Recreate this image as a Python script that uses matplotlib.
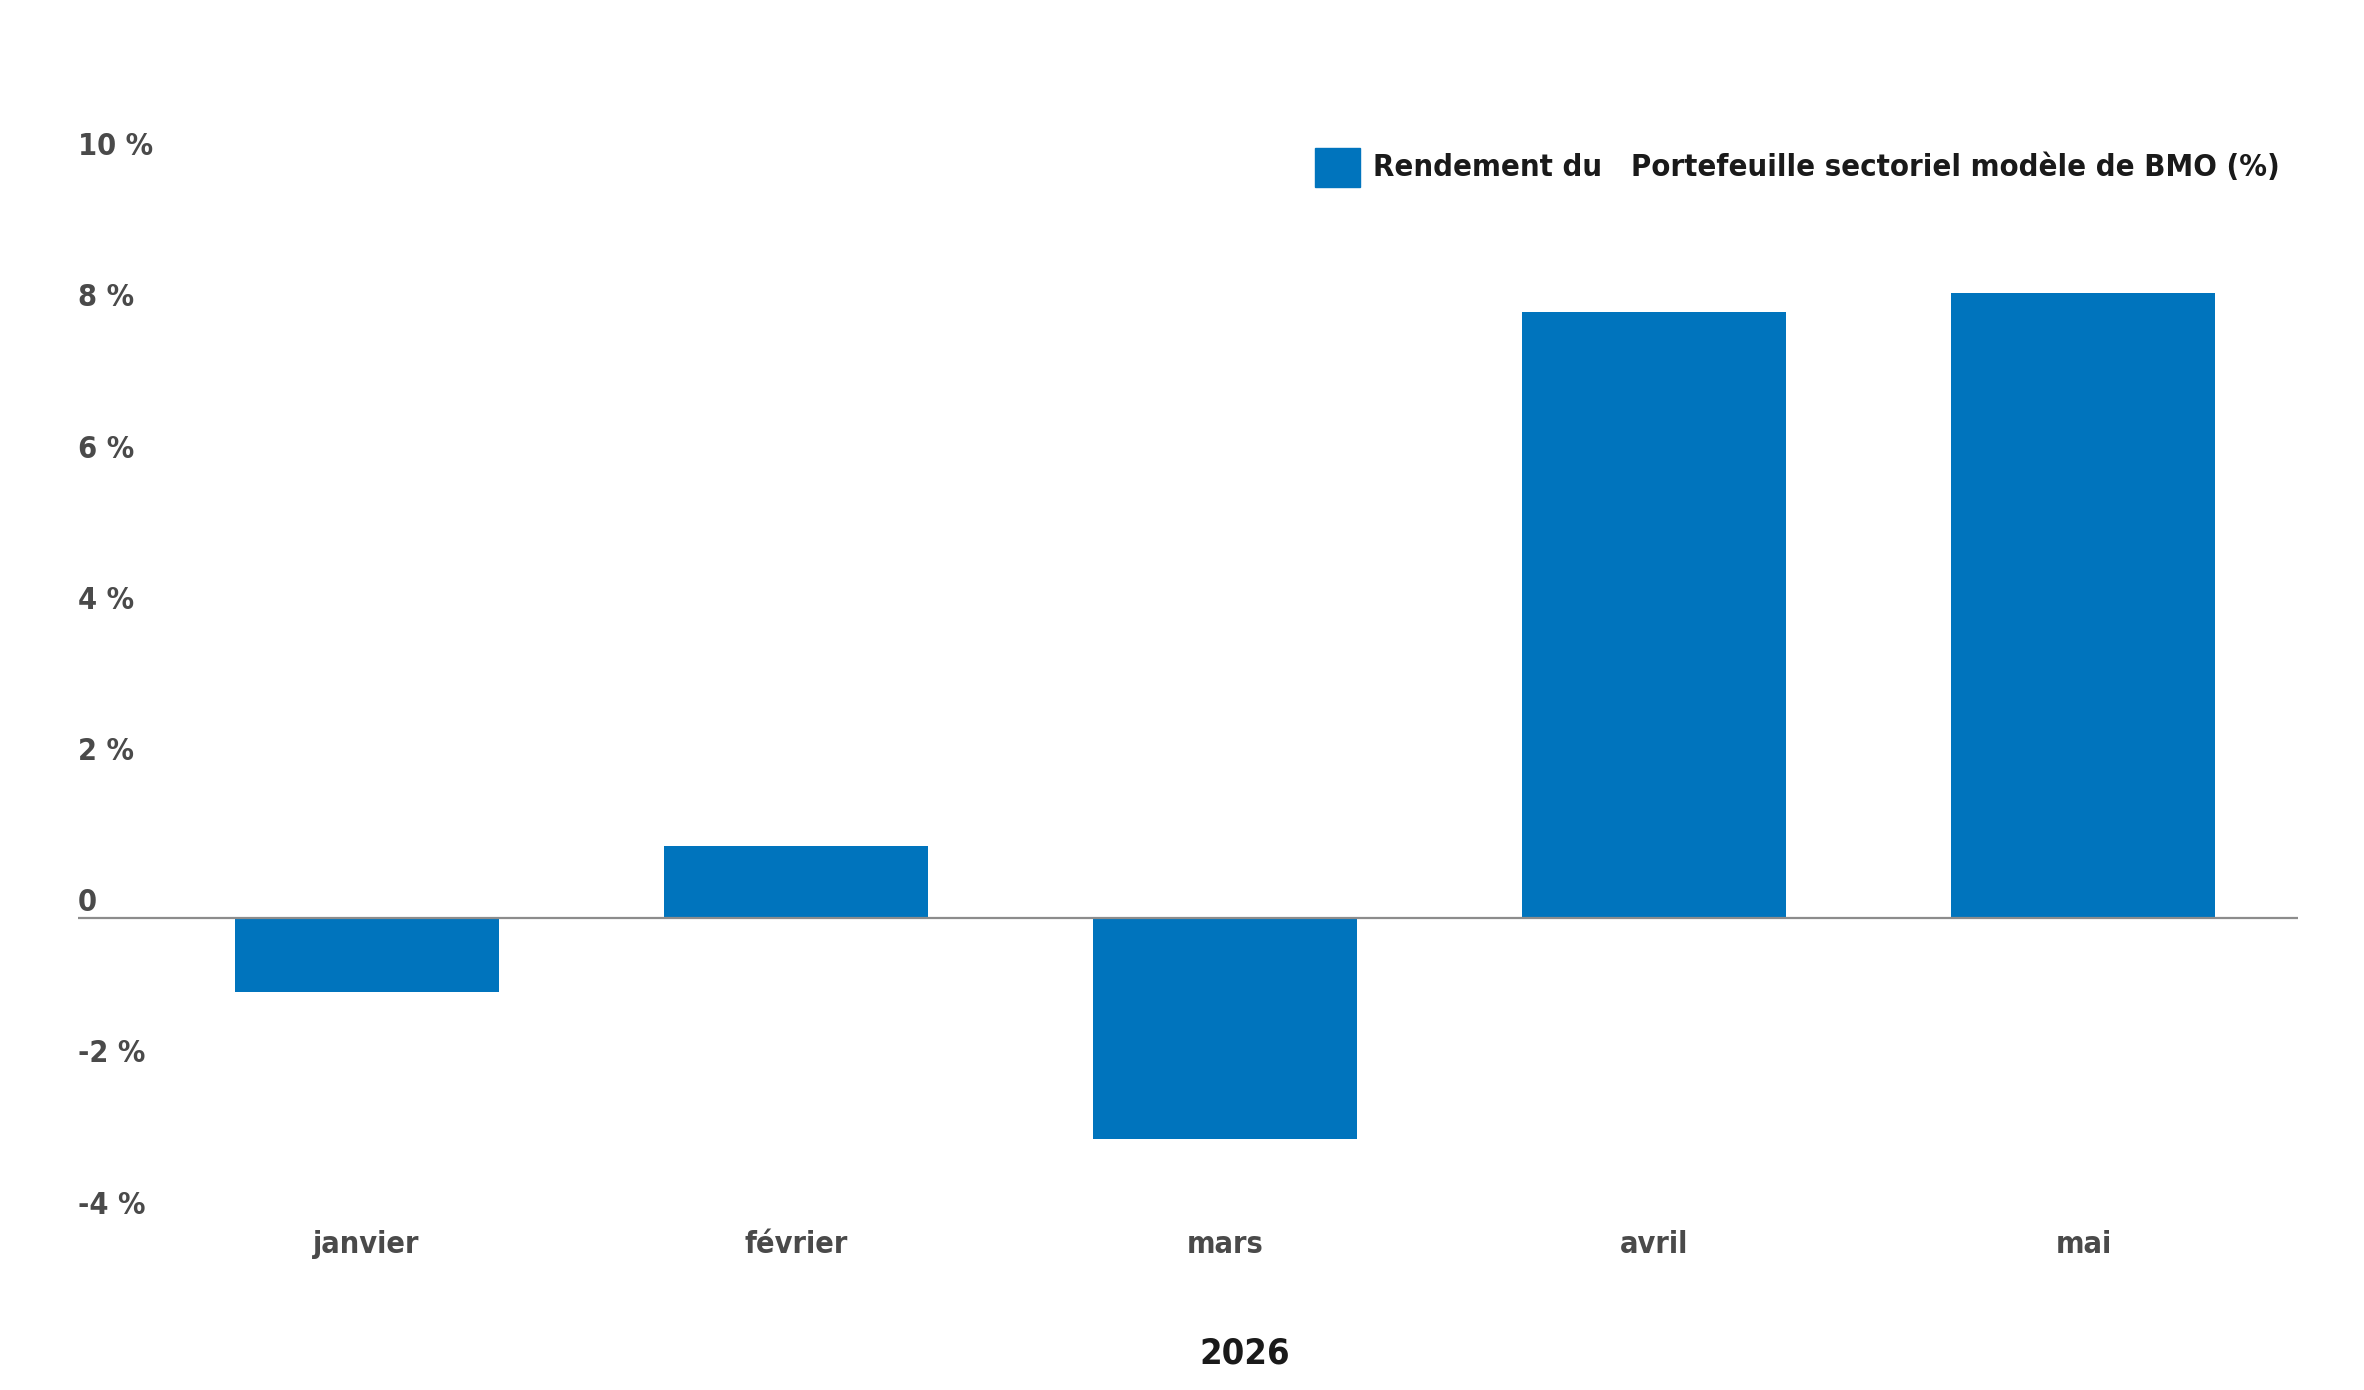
import matplotlib.pyplot as plt
import matplotlib.transforms as mtransforms
from matplotlib.patches import Rectangle

months = ["janvier", "février", "mars", "avril", "mai"]
returns = [-0.98, 0.95, -2.92, 8.02, 8.27]
yticks = [10, 8, 6, 4, 2, 0, -2, -4]
ytick_labels = ["10 %", "8 %", "6 %", "4 %", "2 %", "0", "-2 %", "-4 %"]
series_name = "Rendement du   Portefeuille sectoriel modèle de BMO (%)"
year = "2026"

blue = "#0074bd"
plt.rcParams["font.family"] = ["DejaVu Sans"]
plt.rcParams["font.stretch"] = "condensed"

fig = plt.figure(figsize=(23.64, 13.9), dpi=100)
ax = fig.add_axes([78 / 2364, 1 - 1220.7 / 1390, (2298 - 78) / 2364, (1220.7 - 162.3) / 1390])

x = list(range(len(months)))
ax.bar(x, returns, width=0.615, color=blue, zorder=2)
ax.axhline(0, color="#8c8c8c", lw=1.6, zorder=3)

ax.set_xlim(-0.6725, 4.5)
ax.set_ylim(-4, 10)
for s in ax.spines.values():
    s.set_visible(False)
ax.set_yticks([])
ax.set_xticks(x)
ax.set_xticklabels(months, fontsize=22, fontweight="bold", color="#4a4a4a",
                   fontstretch="condensed")
ax.tick_params(axis="x", length=0, pad=7)

# y labels sit just above their (invisible) gridlines, inside the plot
trans = mtransforms.blended_transform_factory(ax.transAxes, ax.transData)
off = mtransforms.offset_copy(trans, fig=fig, x=0, y=7, units="dots")
for v, lab in zip(yticks, ytick_labels):
    ax.text(0, v, lab, transform=off, ha="left", va="baseline",
            fontsize=22, fontweight="bold", color="#4a4a4a", fontstretch="condensed")

# legend
fig.patches.append(Rectangle((1315 / 2364, 1 - 187 / 1390), 45 / 2364, 39 / 1390,
                             transform=fig.transFigure, color=blue))
fig.text(1373 / 2364, 1 - 167 / 1390, series_name, ha="left", va="center",
         fontsize=22.2, fontweight="bold", color="#1a1a1a", fontstretch="condensed")

fig.text(1245 / 2364, 1 - 1354 / 1390, year, ha="center", va="center",
         fontsize=26, fontweight="bold", color="#1a1a1a", fontstretch="condensed")

plt.savefig("out.png", dpi=100)
